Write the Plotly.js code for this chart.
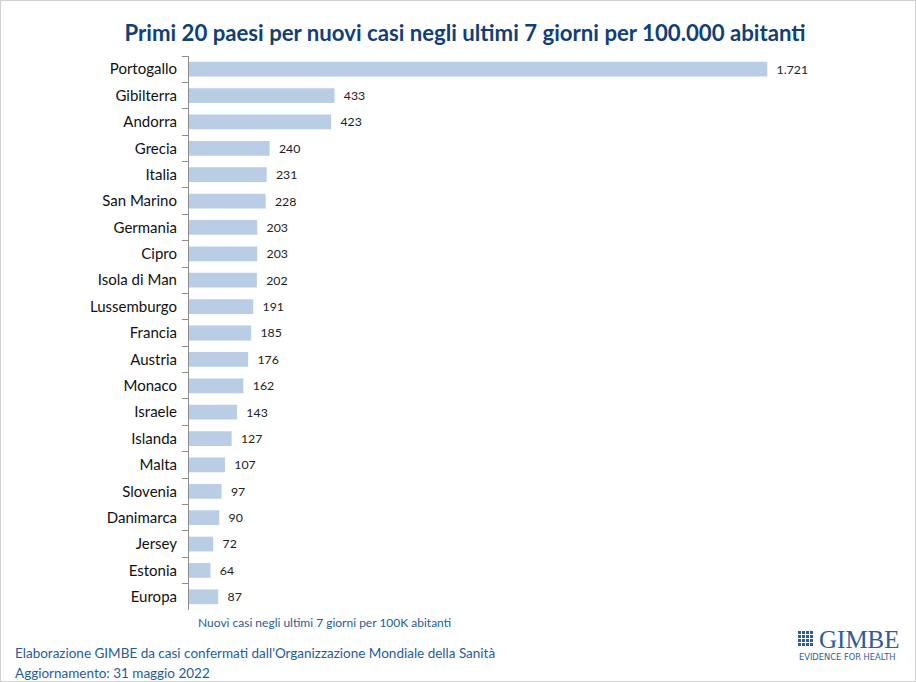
<!DOCTYPE html>
<html><head><meta charset="utf-8">
<script src="https://cdn.plot.ly/plotly-3.0.1.min.js"></script>
<style>html,body{margin:0;padding:0;background:#fff}#chart{width:916px;height:682px}</style>
</head><body><div id="chart"></div>
<script>
const countries = ["Portogallo","Gibilterra","Andorra","Grecia","Italia","San Marino","Germania","Cipro","Isola di Man","Lussemburgo","Francia","Austria","Monaco","Israele","Islanda","Malta","Slovenia","Danimarca","Jersey","Estonia","Europa"];
const cases = [1721,433,423,240,231,228,203,203,202,191,185,176,162,143,127,107,97,90,72,64,87];
const titleText = "Primi 20 paesi per nuovi casi negli ultimi 7 giorni per 100.000 abitanti";
const xTitle = "Nuovi casi negli ultimi 7 giorni per 100K abitanti";
const footer1 = "Elaborazione GIMBE da casi confermati dall'Organizzazione Mondiale della Sanità";
const footer2 = "Aggiornamento: 31 maggio 2022";

const trace = {
  type: "bar", orientation: "h",
  x: cases, y: countries,
  marker: {color: "#B9CDE5"},
  text: cases.map(v => "\u00a0\u00a0" + v.toLocaleString("it-IT")),
  textposition: "outside",
  textfont: {family: "Lato, 'Open Sans', sans-serif", size: 12.5, color: "#222"},
  cliponaxis: false,
  hoverinfo: "skip"
};

const W = 672, H = 554, L = 189, B = 72;
const px = x => (x - L) / W;
const py = y => (682 - B - y) / H;

const shapes = [
  {type:"rect", xref:"paper", yref:"paper", x0:px(0), x1:px(916), y0:py(682), y1:py(0), line:{color:"#d0d0d0", width:2}, fillcolor:"rgba(0,0,0,0)"}
];
// logo grid icon
const gx0 = 798, gy0 = 631, cell = 4;
for (let i=0;i<4;i++) for (let j=0;j<4;j++) {
  const cx = gx0 + i*cell, cy = gy0 + j*cell;
  shapes.push({type:"rect", xref:"paper", yref:"paper",
    x0:px(cx), x1:px(cx+3), y0:py(cy+3), y1:py(cy), line:{width:0}, fillcolor:"#2E5C9A"});
}

const layout = {
  width: 916, height: 682,
  margin: {l:L, r:916-L-W, t:56, b:B},
  paper_bgcolor: "#fff", plot_bgcolor: "#fff",
  showlegend: false,
  bargap: 0.44,
  title: {text: "<b>"+titleText+"</b>", x: 465/916, xanchor:"center", y: 1-33/682, yanchor:"middle",
          font:{family:"Lato, 'Open Sans', sans-serif", size:22.2, color:"#123F78"}},
  xaxis: {range:[0,2000], showgrid:false, zeroline:false, showticklabels:false, showline:false, ticks:""},
  yaxis: {autorange:"reversed", type:"category", showline:true, linecolor:"#8c8c8c", linewidth:1,
          ticks:"outside", tickson:"boundaries", ticklen:6, tickwidth:1, tickcolor:"#8c8c8c", ticklabelstandoff:8,
          tickfont:{family:"Lato, 'Open Sans', sans-serif", size:15, color:"#111"}},
  shapes: shapes,
  annotations: [
    {text: xTitle, xref:"paper", yref:"paper", x:px(324), y:py(622), xanchor:"center", yanchor:"middle", showarrow:false,
     font:{family:"Lato, 'Open Sans', sans-serif", size:12, color:"#1F5C99"}},
    {text: footer1, xref:"paper", yref:"paper", x:px(13), y:py(653), xanchor:"left", yanchor:"middle", showarrow:false,
     font:{family:"Lato, 'Open Sans', sans-serif", size:13.5, color:"#1F5C99"}},
    {text: footer2, xref:"paper", yref:"paper", x:px(13), y:py(673), xanchor:"left", yanchor:"middle", showarrow:false,
     font:{family:"Lato, 'Open Sans', sans-serif", size:13.5, color:"#1F5C99"}},
    {text: "GIMBE", xref:"paper", yref:"paper", x:px(817), y:py(639), xanchor:"left", yanchor:"middle", showarrow:false,
     font:{family:"'Liberation Serif', serif", size:25, color:"#2E5C9A"}},
    {text: "EVIDENCE FOR HEALTH", xref:"paper", yref:"paper", x:px(797), y:py(657), xanchor:"left", yanchor:"middle", showarrow:false,
     font:{family:"'DejaVu Sans', sans-serif", size:8.3, color:"#2E5C9A"}}
  ]
};
Plotly.newPlot("chart", [trace], layout, {displayModeBar:false, staticPlot:true});
</script></body></html>
